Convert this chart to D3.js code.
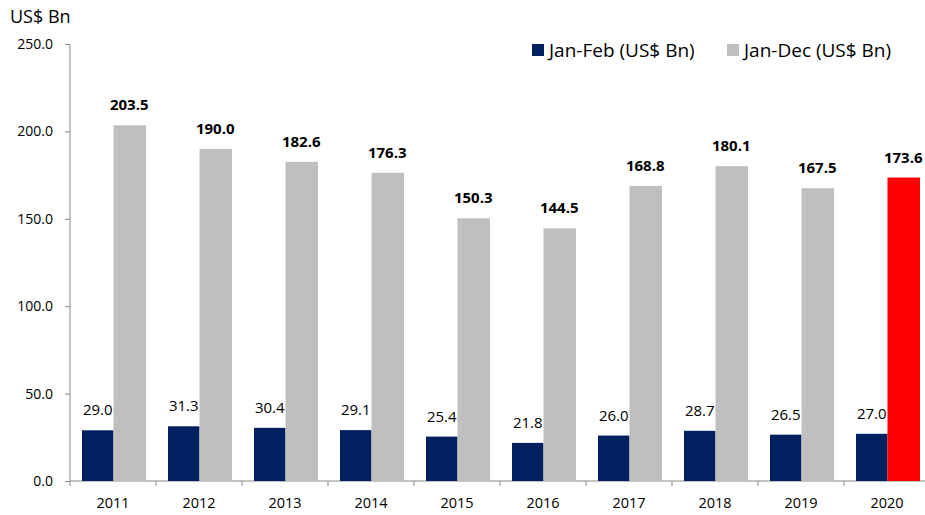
<!DOCTYPE html>
<html>
<head>
<meta charset="utf-8">
<script src="https://cdn.jsdelivr.net/npm/d3@7"></script>
<style>
  body { margin: 0; background: #fff; }
  text { font-family: "Open Sans", "Noto Sans", sans-serif; fill: #000; }
</style>
</head>
<body>
<div id="chart"></div>
<script>
const years = ["2011", "2012", "2013", "2014", "2015", "2016", "2017", "2018", "2019", "2020"];
const janFeb = [29.0, 31.3, 30.4, 29.1, 25.4, 21.8, 26.0, 28.7, 26.5, 27.0];
const janDec = [203.5, 190.0, 182.6, 176.3, 150.3, 144.5, 168.8, 180.1, 167.5, 173.6];
const yTicks = [0, 50, 100, 150, 200, 250];
const seriesNames = ["Jan-Feb (US$ Bn)", "Jan-Dec (US$ Bn)"];

const width = 925, height = 515;
const svg = d3.select("#chart").append("svg")
  .attr("width", width)
  .attr("height", height);

const x = d3.scaleBand().domain(years).range([70, 930]);
const y = d3.scaleLinear().domain([0, 250]).range([481, 44]);
const barW = 31.5;
const inset = 12;

// y axis
const yAxis = svg.append("g").attr("transform", "translate(70,0)")
  .call(d3.axisLeft(y).tickValues(yTicks).tickFormat(d3.format(".1f")).tickSize(5).tickPadding(12));
yAxis.select(".domain").attr("stroke", "#888").attr("d", "M0," + y(250) + "V" + y(0));
yAxis.selectAll(".tick line").attr("stroke", "#888");
yAxis.selectAll("text").style("font-size", "14px").style("font-family", "'Open Sans', sans-serif").attr("fill", "#000");

// x axis
const xAxis = svg.append("g").attr("transform", "translate(0," + y(0) + ")");
xAxis.append("line").attr("x1", 70).attr("x2", width).attr("stroke", "#888");
xAxis.selectAll(".sep").data(years.slice(1)).enter().append("line")
  .attr("x1", d => x(d)).attr("x2", d => x(d))
  .attr("y1", 0).attr("y2", 5).attr("stroke", "#888");
xAxis.append("line").attr("x1", 70).attr("x2", 70).attr("y1", 0).attr("y2", 5).attr("stroke", "#888");
xAxis.selectAll(".lbl").data(years).enter().append("text")
  .attr("x", d => x(d) + x.bandwidth() / 2)
  .attr("y", 27)
  .attr("text-anchor", "middle")
  .style("font-size", "14.5px")
  .text(d => d);

// Jan-Feb bars
svg.selectAll(".jf").data(janFeb).enter().append("rect")
  .attr("x", (d, i) => x(years[i]) + inset)
  .attr("y", d => y(d))
  .attr("width", barW)
  .attr("height", d => y(0) - y(d))
  .attr("fill", "#002060");

svg.selectAll(".jfl").data(janFeb).enter().append("text")
  .attr("x", (d, i) => x(years[i]) + inset + barW / 2)
  .attr("y", d => y(d) - 15)
  .attr("text-anchor", "middle")
  .style("font-size", "15px")
  .text(d => d.toFixed(1));

// Jan-Dec bars
svg.selectAll(".jd").data(janDec).enter().append("rect")
  .attr("x", (d, i) => x(years[i]) + inset + barW)
  .attr("y", d => y(d))
  .attr("width", barW + 1)
  .attr("height", d => y(0) - y(d))
  .attr("fill", (d, i) => i === years.length - 1 ? "#ff0000" : "#bfbfbf");

svg.selectAll(".jdl").data(janDec).enter().append("text")
  .attr("x", (d, i) => x(years[i]) + inset + barW * 1.5)
  .attr("y", d => y(d) - 15)
  .attr("text-anchor", "middle")
  .style("font-size", "15px")
  .style("font-weight", "bold")
  .text(d => d.toFixed(1));

// unit label
svg.append("text").attr("x", 10).attr("y", 23)
  .style("font-size", "18px").text("US$ Bn");

// legend
const legend = svg.append("g");
const legendX = [532, 727];
const legendColors = ["#002060", "#bfbfbf"];
seriesNames.forEach((name, i) => {
  legend.append("rect").attr("x", legendX[i]).attr("y", 44)
    .attr("width", 12).attr("height", 12).attr("fill", legendColors[i]);
  legend.append("text").attr("x", legendX[i] + 17).attr("y", 57)
    .style("font-size", "19px").text(name);
});
</script>
</body>
</html>
